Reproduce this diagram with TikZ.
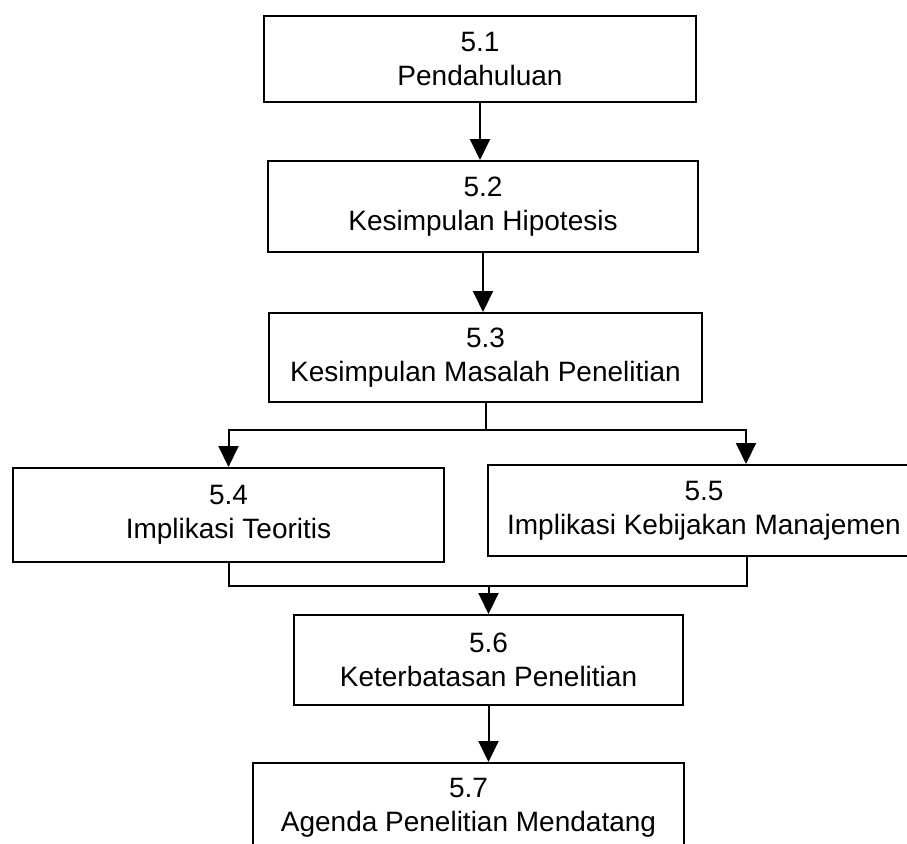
\documentclass[tikz,border=0pt]{standalone}
\usepackage{fontspec}
\setmainfont{Liberation Sans}
\usetikzlibrary{arrows.meta,calc}
\begin{document}
\begin{tikzpicture}[x=1pt,y=-1pt,
  box/.style={draw, line width=2pt, align=center, inner sep=0pt,
    font=\fontsize{28}{34}\selectfont, anchor=north west},
  arr/.style={line width=2pt, -{Triangle[length=21pt,width=20pt]}},
  wire/.style={line width=2pt}]
\useasboundingbox (0,0) rectangle (907,843);
\clip (0,0) rectangle (907,843);

% chapter sections
\node[box, minimum width=432pt, minimum height=86pt] (n1) at (263,15) {5.1\\Pendahuluan};
\node[box, minimum width=430pt, minimum height=91pt] (n2) at (267,160) {5.2\\Kesimpulan Hipotesis};
\node[box, minimum width=433pt, minimum height=89pt] (n3) at (268,312) {5.3\\Kesimpulan Masalah Penelitian};
\node[box, minimum width=431pt, minimum height=94pt] (n4) at (12,467) {5.4\\Implikasi Teoritis};
\node[box, minimum width=432pt, minimum height=91pt] (n5) at (487,464) {5.5\\Implikasi Kebijakan Manajemen};
\node[box, minimum width=389pt, minimum height=90pt] (n6) at (293,614) {5.6\\Keterbatasan Penelitian};
\node[box, minimum width=431pt, minimum height=90pt] (n7) at (252,762) {5.7\\Agenda Penelitian Mendatang};

% straight flow
\draw[arr] (n1.south) -- (n1.south |- n2.north);
\draw[arr] (n2.south) -- (n2.south |- n3.north);

% branch into 5.4 and 5.5
\coordinate (split) at ($(n3.south)+(0,27)$);
\draw[wire] (n3.south) -- (split);
\draw[arr] (split) -| (n4.north);
\draw[arr] (split) -| ([xshift=42pt]n5.north);

% merge into 5.6
\coordinate (merge) at (n6.north |- 0,586);
\draw[wire] (n4.south) |- ([xshift=43pt]n5.south |- merge) -- ([xshift=43pt]n5.south);
\draw[arr] (merge) -- (n6.north);

\draw[arr] (n6.south) -- (n6.south |- n7.north);
\end{tikzpicture}
\end{document}
